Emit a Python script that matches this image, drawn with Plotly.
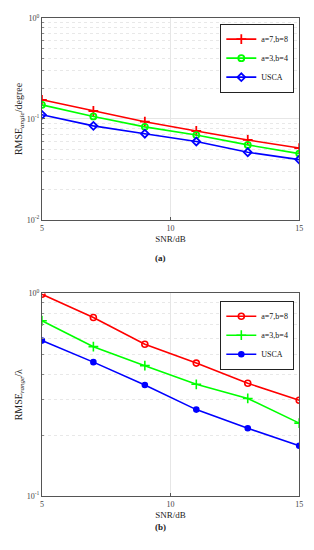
import plotly.graph_objects as go

snr = [5, 7, 9, 11, 13, 15]

# Panel (a): RMSE of angle (degree)
angle_a7b8 = [0.155, 0.120, 0.094, 0.076, 0.062, 0.0515]
angle_a3b4 = [0.138, 0.106, 0.0836, 0.0693, 0.0554, 0.0454]
angle_usca = [0.110, 0.0855, 0.0715, 0.0598, 0.0468, 0.0396]

# Panel (b): RMSE of range (lambda)
range_a7b8 = [0.99, 0.761, 0.561, 0.453, 0.360, 0.297]
range_a3b4 = [0.733, 0.546, 0.440, 0.356, 0.303, 0.229]
range_usca = [0.585, 0.458, 0.353, 0.267, 0.216, 0.177]

names = ["a=7,b=8", "a=3,b=4", "USCA"]
colors = ["#ff0000", "#00ff00", "#0000ff"]

FONT = "Liberation Serif"

fig = go.Figure()

sym_a = ["cross-thin-open", "circle-open", "diamond-open"]
size_a = [7, 6, 6]
for vals, name, col, sym, sz in zip([angle_a7b8, angle_a3b4, angle_usca], names, colors, sym_a, size_a):
    fig.add_trace(go.Scatter(
        x=snr, y=vals, name=name, mode="lines+markers",
        line=dict(color=col, width=1.6),
        marker=dict(symbol=sym, size=sz, color=col, line=dict(color=col, width=1.8)),
        xaxis="x", yaxis="y", legend="legend",
    ))

sym_b = ["circle-open", "cross-thin-open", "circle"]
size_b = [6, 7, 5]
for vals, name, col, sym, sz in zip([range_a7b8, range_a3b4, range_usca], names, colors, sym_b, size_b):
    fig.add_trace(go.Scatter(
        x=snr, y=vals, name=name, mode="lines+markers",
        line=dict(color=col, width=1.6),
        marker=dict(symbol=sym, size=sz, color=col, line=dict(color=col, width=1.6)),
        xaxis="x2", yaxis="y2", legend="legend2",
    ))

xdom = [40.7 / 314, 303 / 314]
ya = [1 - 218.3 / 550, 1 - 12.3 / 550]
yb = [1 - 500 / 550, 1 - 293.3 / 550]

axis_common = dict(
    showline=True, linecolor="#555555", linewidth=1, mirror=True,
    ticks="inside", ticklen=3, tickcolor="#555555",
    tickfont=dict(family=FONT, size=8, color="#444444"),
    zeroline=False,
)

xaxis_common = dict(
    range=[5, 15], tickvals=[5, 10, 15],
    showgrid=True, gridcolor="#e6e6e6", gridwidth=1,
    title=dict(text="SNR/dB", font=dict(family=FONT, size=9, color="#222222"), standoff=4),
    **axis_common,
)

minor_a = [k * 10 ** e for e in (-2, -1) for k in range(2, 10)]
minor_b = [k / 10 for k in range(2, 10)]

legend_common = dict(
    xanchor="right", yanchor="top",
    bgcolor="white", bordercolor="#222222", borderwidth=1,
    font=dict(family=FONT, size=8, color="#111111"),
    tracegroupgap=0, itemwidth=30, traceorder="normal",
)

fig.update_layout(
    width=314, height=550,
    margin=dict(l=0, r=0, t=0, b=0),
    paper_bgcolor="white", plot_bgcolor="white",
    showlegend=True,
    xaxis=dict(domain=xdom, anchor="y", **xaxis_common),
    xaxis2=dict(domain=xdom, anchor="y2", **xaxis_common),
    yaxis=dict(
        domain=ya, anchor="x", type="log", range=[-2, 0],
        tickvals=[0.01, 0.1, 1], ticktext=["10<sup>-2</sup>", "10<sup>-1</sup>", "10<sup>0</sup>"],
        showgrid=True, gridcolor="#e6e6e6",
        minor=dict(tickvals=minor_a, showgrid=True, gridcolor="#e8e8e8", griddash="dot",
                   gridwidth=1, ticks="inside", ticklen=2, tickcolor="#888888"),
        title=dict(text="RMSE<sub><i>angle</i></sub>/degree", font=dict(family=FONT, size=10, color="#222222"), standoff=2),
        **axis_common,
    ),
    yaxis2=dict(
        domain=yb, anchor="x2", type="log", range=[-1, 0],
        tickvals=[0.1, 1], ticktext=["10<sup>-1</sup>", "10<sup>0</sup>"],
        showgrid=True, gridcolor="#e6e6e6",
        minor=dict(tickvals=minor_b, showgrid=True, gridcolor="#e8e8e8", griddash="dot",
                   gridwidth=1, ticks="inside", ticklen=2, tickcolor="#888888"),
        title=dict(text="RMSE<sub><i>range</i></sub>/λ", font=dict(family=FONT, size=10, color="#222222"), standoff=2),
        **axis_common,
    ),
    legend=dict(x=298 / 314, y=1 - 18 / 550, **legend_common),
    legend2=dict(x=298 / 314, y=1 - 300.7 / 550, **legend_common),
    annotations=[
        dict(text="<b>(a)</b>", x=162 / 314, y=1 - 257 / 550, xref="paper", yref="paper",
             showarrow=False, font=dict(family=FONT, size=9, color="#222222")),
        dict(text="<b>(b)</b>", x=162 / 314, y=1 - 539 / 550, xref="paper", yref="paper",
             showarrow=False, font=dict(family=FONT, size=9, color="#222222")),
    ],
)

fig.write_html(
    "out.html",
    config={"displayModeBar": False},
    post_script="document.body.style.margin='0';document.body.style.overflow='hidden';",
)
